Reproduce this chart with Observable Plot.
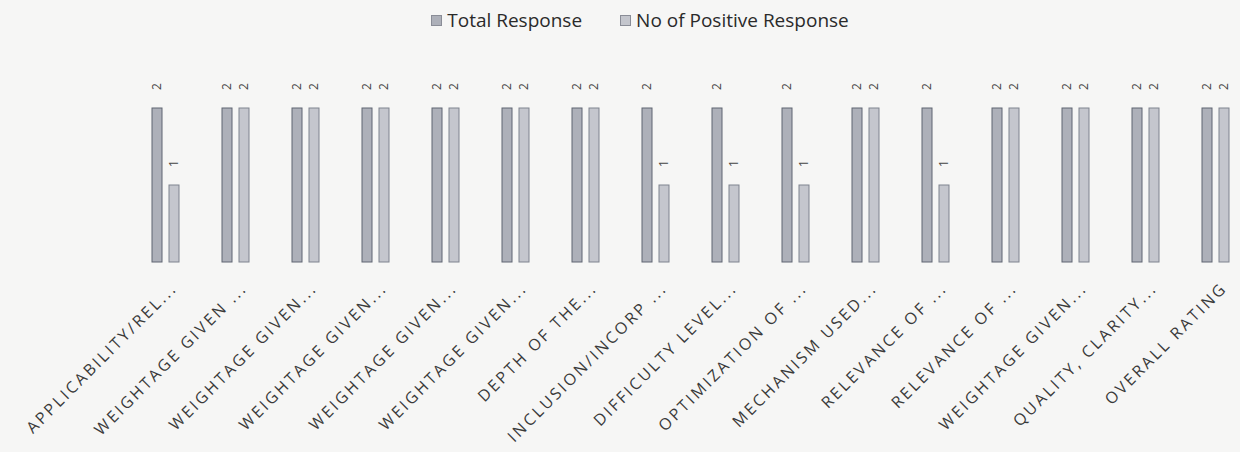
<!DOCTYPE html>
<html><head><meta charset="utf-8">
<script src="https://cdn.jsdelivr.net/npm/d3@7"></script>
<script src="https://cdn.jsdelivr.net/npm/@observablehq/plot@0.6"></script>
<style>
body{margin:0;background:#f6f6f5;font-family:"Open Sans",sans-serif;}
#legend{height:40px;display:flex;justify-content:center;align-items:center;gap:38px;font-size:19px;color:#2a2a2a;padding-left:40px;box-sizing:border-box;width:1240px;}
#legend span.sw{display:inline-block;width:9px;height:9px;margin-right:5px;vertical-align:middle;border:1px solid #8a8d97;position:relative;top:-1px;}
#chart svg [aria-label="fx-axis tick label"] text{letter-spacing:2.6px;}
</style>
</head><body>
<div id="legend"></div>
<div id="chart"></div>
<script>
const categories = [
  "APPLICABILITY/REL...", "WEIGHTAGE GIVEN ...", "WEIGHTAGE GIVEN...", "WEIGHTAGE GIVEN...",
  "WEIGHTAGE GIVEN...", "WEIGHTAGE GIVEN...", "DEPTH OF THE...", "INCLUSION/INCORP ...",
  "DIFFICULTY LEVEL...", "OPTIMIZATION OF ...", "MECHANISM USED...", "RELEVANCE OF ...",
  "RELEVANCE OF ...", "WEIGHTAGE GIVEN...", "QUALITY, CLARITY...", "OVERALL RATING"
];
const seriesNames = ["Total Response", "No of Positive Response"];
const totalResponse =    [2,2,2,2,2,2,2,2,2,2,2,2,2,2,2,2];
const positiveResponse = [1,2,2,2,2,2,2,1,1,1,2,1,2,2,2,2];
const seriesFill = ["#adb0b9", "#c4c6cd"];
const seriesStroke = ["#5f6472", "#7f838f"];

const rows = [];
categories.forEach((c, i) => {
  rows.push({key: i, series: seriesNames[0], value: totalResponse[i]});
  rows.push({key: i, series: seriesNames[1], value: positiveResponse[i]});
});

const legend = document.getElementById("legend");
seriesNames.forEach((s, i) => {
  const el = document.createElement("div");
  el.innerHTML = `<span class="sw" style="background:${seriesFill[i]}"></span>${s}`;
  legend.appendChild(el);
});

const chart = Plot.plot({
  width: 1240,
  height: 412,
  marginTop: 68,
  marginBottom: 190,
  marginLeft: 140,
  marginRight: 0,
  style: {background: "transparent", fontFamily: "Open Sans, sans-serif"},
  fx: {domain: d3.range(categories.length), paddingInner: 0.6, paddingOuter: 0.1, label: null},
  x: {domain: seriesNames, axis: null, paddingInner: 0.44, paddingOuter: 0},
  y: {domain: [0, 2], axis: null},
  color: {domain: seriesNames, range: seriesFill},
  marks: [
    Plot.barY(rows, {fx: "key", x: "series", y: "value", fill: "series",
      stroke: d => seriesStroke[seriesNames.indexOf(d.series)], strokeWidth: 1}),
    Plot.text(rows, {fx: "key", x: "series", y: "value", text: d => String(d.value),
      rotate: -90, dy: -22, fontSize: 12, fill: "#444"}),
    Plot.axisFx({anchor: "bottom", label: null, tickFormat: i => categories[i], tickRotate: -45,
      tickSize: 0, tickPadding: 23, dx: 9, fontSize: 16, fill: "#3a3a3a"})
  ]
});
document.getElementById("chart").appendChild(chart);
</script>
</body></html>
